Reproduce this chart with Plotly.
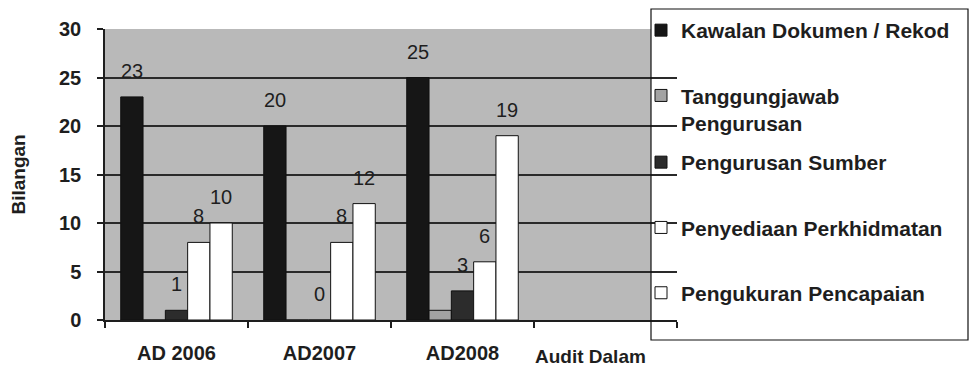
import plotly.graph_objects as go

categories = ["AD 2006", "AD2007", "AD2008"]
blank_category = " "
series_names = ["Kawalan Dokumen / Rekod", "Tanggungjawab<br>Pengurusan", "Pengurusan Sumber",
                "Penyediaan Perkhidmatan", "Pengukuran Pencapaian"]
kawalan = [23, 20, 25]
tanggungjawab = [0, 0, 1]
sumber = [1, 0, 3]
penyediaan = [8, 8, 6]
pengukuran = [10, 12, 19]
series_values = [kawalan, tanggungjawab, sumber, penyediaan, pengukuran]
show_labels = [True, False, True, True, True]
y_ticks = [0, 5, 10, 15, 20, 25, 30]

colors = ["#161616", "#a3a3a3", "#2c2c2c", "#ffffff", "#ffffff"]
legend_ids = ["legend", "legend", "legend2", "legend2", "legend2"]

# page offset of the figure (default body margin of the html page)
OFF = 8
W, H = 978 - 2 * OFF, 378 - 2 * OFF
# plot area in page pixels: x 105..677, y 29..320
L = 105 - OFF
T = 29 - OFF
R = W - (677 - OFF)
B = H - (320 - OFF)
bargap = 0.22
plot_w = W - L - R
plot_h = H - T - B
n_slots = len(categories) + 1
bar_w = plot_w / n_slots * (1 - bargap) / len(series_values)


def px_x(page_x):
    return (page_x - OFF - L) / plot_w


def px_y(page_y):
    return (H - B - (page_y - OFF)) / plot_h


FONT = "Liberation Sans, Arial, sans-serif"
INK = "#1e1e1e"

fig = go.Figure()
for i, (name, vals) in enumerate(zip(series_names, series_values)):
    fig.add_trace(go.Bar(
        x=categories, y=vals, name=name,
        marker=dict(color=colors[i], line=dict(color="#111111", width=1)),
        legend=legend_ids[i], legendgroup=f"g{i}",
    ))

annotations = []
for i, vals in enumerate(series_values):
    if not show_labels[i]:
        continue
    for c, v in zip(categories, vals):
        annotations.append(dict(
            x=c, y=v, xref="x", yref="y", text=str(v), showarrow=False,
            xanchor="center", yanchor="bottom",
            xshift=(i - (len(series_values) - 1) / 2) * bar_w, yshift=13,
            font=dict(family=FONT, size=20, color=INK),
        ))

annotations.append(dict(
    x=px_x(18), y=0.5, xref="paper", yref="paper", text="<b>Bilangan</b>",
    textangle=-90, showarrow=False, xanchor="center", yanchor="middle",
    font=dict(family=FONT, size=19, color=INK),
))
annotations.append(dict(
    x=px_x(590), y=px_y(369), xref="paper", yref="paper", text="<b>Audit Dalam</b>",
    showarrow=False, xanchor="center", yanchor="bottom",
    font=dict(family=FONT, size=19, color=INK),
))

legend_font = dict(family=FONT, size=21, color=INK, weight="bold")

box = dict(x0=px_x(651), x1=px_x(968), y0=px_y(340), y1=px_y(9))

fig.update_layout(
    width=W, height=H,
    margin=dict(l=L, r=R, t=T, b=B, autoexpand=False),
    paper_bgcolor="#ffffff",
    plot_bgcolor="#b9b9b9",
    barmode="group",
    bargap=bargap,
    bargroupgap=0,
    showlegend=True,
    legend=dict(
        x=px_x(641), y=px_y(10), xanchor="left", yanchor="top",
        bgcolor="rgba(0,0,0,0)", borderwidth=0, font=legend_font,
        tracegroupgap=35, valign="top", traceorder="grouped",
    ),
    legend2=dict(
        x=px_x(641), y=px_y(142), xanchor="left", yanchor="top",
        bgcolor="rgba(0,0,0,0)", borderwidth=0, font=legend_font,
        tracegroupgap=35, valign="top", traceorder="grouped",
    ),
    xaxis=dict(
        type="category", categoryorder="array",
        categoryarray=categories + [blank_category],
        range=[-0.5, n_slots - 0.5],
        tickson="boundaries", ticks="outside", ticklen=6, tickwidth=1.5, tickcolor=INK,
        showline=True, linecolor=INK, linewidth=1.5,
        showgrid=False, zeroline=False,
        tickfont=dict(family=FONT, size=20, color=INK, weight="bold"),
        ticklabelstandoff=14,
        fixedrange=True,
    ),
    yaxis=dict(
        range=[0, 30], tickvals=y_ticks, ticks="outside", ticklen=6, tickwidth=1.5,
        tickcolor=INK, showline=True, linecolor=INK, linewidth=1.5,
        showgrid=True, gridcolor="#2a2a2a", gridwidth=1.5, zeroline=False,
        tickfont=dict(family=FONT, size=20, color=INK, weight="bold"),
        ticklabelstandoff=12,
        fixedrange=True,
    ),
    shapes=[
        dict(type="rect", xref="paper", yref="paper", **box,
             fillcolor="#ffffff", line=dict(width=0), layer="below"),
        dict(type="rect", xref="paper", yref="paper", **box,
             fillcolor="rgba(0,0,0,0)", line=dict(color="#111111", width=1.2), layer="above"),
    ],
    annotations=annotations,
)

fig.write_html("out.html")
